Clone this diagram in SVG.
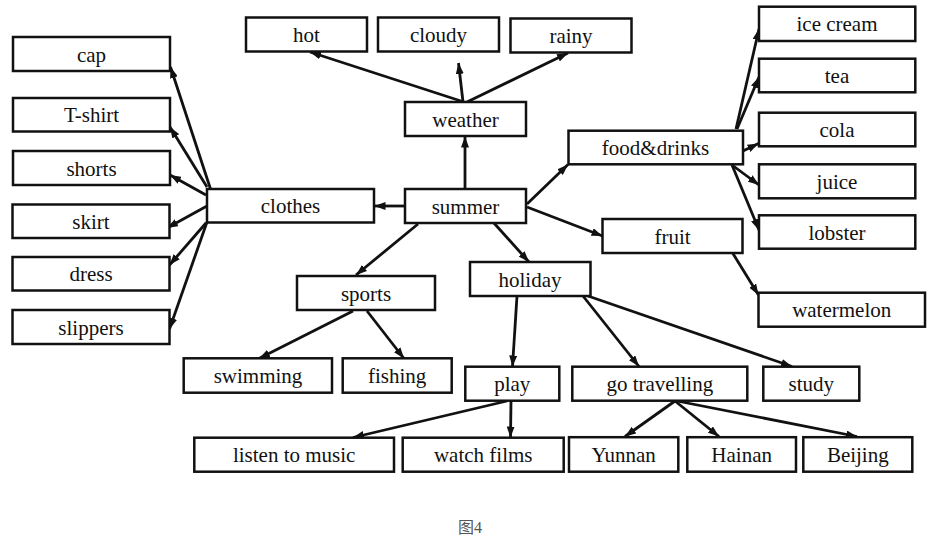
<svg xmlns="http://www.w3.org/2000/svg" width="938" height="545" viewBox="0 0 938 545">
<style>
.n rect{fill:#fff;stroke:#111;stroke-width:2.5}
.n text{font-family:"Liberation Serif","Times New Roman",serif;font-size:21px;fill:#111;text-anchor:middle}
#edges line{stroke:#111;stroke-width:2.8;marker-end:url(#ah)}
.cap{font-family:"Liberation Serif","Noto Sans CJK SC",serif;font-size:16px;fill:#555;text-anchor:middle}
</style>
<defs>
<marker id="ah" markerUnits="userSpaceOnUse" markerWidth="11" markerHeight="8" refX="11" refY="4" orient="auto">
<path d="M0,0 L11,4 L0,8 z" fill="#111"/>
</marker>
</defs>
<rect width="938" height="545" fill="#fff"/>
<g id="edges">
<line x1="465" y1="189" x2="465" y2="136.5"/>
<line x1="464" y1="102" x2="310" y2="52"/>
<line x1="463" y1="102" x2="458.5" y2="63"/>
<line x1="467" y1="102" x2="568" y2="53"/>
<line x1="405" y1="206" x2="374.5" y2="206"/>
<line x1="418" y1="224" x2="356" y2="275"/>
<line x1="493" y1="222" x2="529" y2="262"/>
<line x1="527" y1="204" x2="568" y2="164.5"/>
<line x1="527" y1="207" x2="602.5" y2="236"/>
<line x1="210.5" y1="189" x2="170.5" y2="67"/>
<line x1="207" y1="187" x2="170" y2="127"/>
<line x1="206" y1="195" x2="170" y2="175"/>
<line x1="207" y1="206" x2="167" y2="228"/>
<line x1="206" y1="223" x2="169.5" y2="265"/>
<line x1="207" y1="222" x2="169.5" y2="329"/>
<line x1="736" y1="129" x2="759" y2="29"/>
<line x1="737" y1="129" x2="759" y2="77"/>
<line x1="743" y1="151" x2="758.5" y2="143.5"/>
<line x1="732" y1="165" x2="759" y2="185"/>
<line x1="732" y1="165" x2="759" y2="230"/>
<line x1="732" y1="252" x2="758.5" y2="295"/>
<line x1="353" y1="311" x2="259" y2="358.5"/>
<line x1="367" y1="311" x2="404" y2="358.5"/>
<line x1="517" y1="296" x2="512.5" y2="366.5"/>
<line x1="583" y1="296" x2="639" y2="366.5"/>
<line x1="588" y1="296" x2="792" y2="366.5"/>
<line x1="507" y1="401" x2="353" y2="437.5"/>
<line x1="511" y1="401" x2="510.5" y2="437.5"/>
<line x1="675" y1="401" x2="625" y2="436.5"/>
<line x1="675" y1="401" x2="719" y2="436.5"/>
<line x1="677" y1="401" x2="857" y2="436.5"/>
</g>
<g id="hot" class="n"><rect x="246" y="17.5" width="121" height="34"/><text x="306.5" y="42">hot</text></g>
<g id="cloudy" class="n"><rect x="378" y="17.5" width="121" height="34"/><text x="438.5" y="42">cloudy</text></g>
<g id="rainy" class="n"><rect x="510.5" y="18.5" width="121" height="34"/><text x="571" y="43">rainy</text></g>
<g id="weather" class="n"><rect x="405" y="102" width="121" height="34"/><text x="465.5" y="126.5">weather</text></g>
<g id="summer" class="n"><rect x="405" y="189" width="121" height="34"/><text x="465.5" y="213.5">summer</text></g>
<g id="clothes" class="n"><rect x="207" y="189" width="167" height="33.5"/><text x="290.5" y="213">clothes</text></g>
<g id="cap" class="n"><rect x="13" y="37" width="157" height="34"/><text x="91.5" y="61.5">cap</text></g>
<g id="tshirt" class="n"><rect x="13" y="98" width="157" height="33.5"/><text x="91.5" y="122">T-shirt</text></g>
<g id="shorts" class="n"><rect x="13" y="151" width="157" height="34"/><text x="91.5" y="175.5">shorts</text></g>
<g id="skirt" class="n"><rect x="12.5" y="204.5" width="157" height="33.5"/><text x="91" y="228.5">skirt</text></g>
<g id="dress" class="n"><rect x="12.5" y="257" width="157" height="33.5"/><text x="91" y="281">dress</text></g>
<g id="slippers" class="n"><rect x="12.5" y="310" width="157" height="34"/><text x="91" y="334.5">slippers</text></g>
<g id="sports" class="n"><rect x="297" y="276" width="138" height="34"/><text x="366" y="300.5">sports</text></g>
<g id="holiday" class="n"><rect x="470" y="262" width="120.5" height="34"/><text x="530" y="286.5">holiday</text></g>
<g id="fooddrinks" class="n"><rect x="568.5" y="130.7" width="174.5" height="33.6"/><text x="655.5" y="155">food&amp;drinks</text></g>
<g id="fruit" class="n"><rect x="602.5" y="219" width="140" height="34"/><text x="672.5" y="243.5">fruit</text></g>
<g id="icecream" class="n"><rect x="759" y="6.7" width="156.3" height="34.3"/><text x="837" y="31.3">ice cream</text></g>
<g id="tea" class="n"><rect x="759" y="58.7" width="156.3" height="33.6"/><text x="837" y="83">tea</text></g>
<g id="cola" class="n"><rect x="759" y="112.7" width="156.3" height="33.6"/><text x="837" y="137">cola</text></g>
<g id="juice" class="n"><rect x="759" y="164.3" width="156.3" height="34"/><text x="837" y="188.8">juice</text></g>
<g id="lobster" class="n"><rect x="759" y="215.3" width="156.3" height="33.4"/><text x="837" y="239.5">lobster</text></g>
<g id="watermelon" class="n"><rect x="758.5" y="292.7" width="166.5" height="34"/><text x="841.7" y="317.2">watermelon</text></g>
<g id="swimming" class="n"><rect x="183.7" y="358.3" width="148.3" height="34.4"/><text x="258" y="383">swimming</text></g>
<g id="fishing" class="n"><rect x="342.7" y="358.3" width="109" height="34.4"/><text x="397.2" y="383">fishing</text></g>
<g id="play" class="n"><rect x="465.3" y="366.7" width="94" height="34"/><text x="512.3" y="391.2">play</text></g>
<g id="gotravelling" class="n"><rect x="572.3" y="366.7" width="175" height="34"/><text x="659.8" y="391.2">go travelling</text></g>
<g id="study" class="n"><rect x="763.3" y="366.7" width="96" height="34"/><text x="811.3" y="391.2">study</text></g>
<g id="listen" class="n"><rect x="194.3" y="437.7" width="199.7" height="34"/><text x="294.2" y="462.2">listen to music</text></g>
<g id="watchfilms" class="n"><rect x="402.7" y="437.7" width="161" height="34"/><text x="483.2" y="462.2">watch films</text></g>
<g id="yunnan" class="n"><rect x="569" y="437.2" width="109.3" height="34.5"/><text x="623.7" y="462">Yunnan</text></g>
<g id="hainan" class="n"><rect x="687.3" y="437.2" width="108.7" height="34.5"/><text x="741.7" y="462">Hainan</text></g>
<g id="beijing" class="n"><rect x="803.3" y="437.2" width="109" height="34.5"/><text x="857.8" y="462">Beijing</text></g>
<text class="cap" x="470" y="533">图4</text>
</svg>
